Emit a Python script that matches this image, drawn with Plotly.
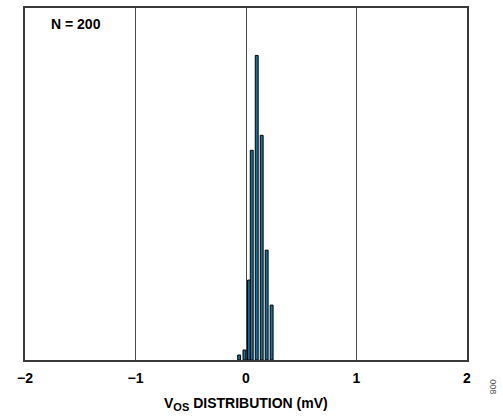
import plotly.graph_objects as go

# Histogram bins (mV) and unit counts, N = 200
bin_centers = [-0.062, -0.014, 0.027, 0.052, 0.097, 0.142, 0.187, 0.232]
counts = [1, 2, 16, 42, 61, 45, 22, 11]

x_ticks = [-2, -1, 0, 1, 2]
x_tick_labels = ["\u22122", "\u22121", "0", "1", "2"]
sample_label = "N = 200"

fig = go.Figure()
fig.add_trace(go.Bar(
    x=bin_centers,
    y=counts,
    width=0.026,
    marker=dict(color="#17719a", line=dict(color="#000000", width=1)),
))

fig.update_layout(
    width=503,
    height=416,
    margin=dict(l=25, r=36, t=6, b=56),
    paper_bgcolor="white",
    plot_bgcolor="white",
    showlegend=False,
    font=dict(family="Liberation Sans, Arial, sans-serif", color="#000000"),
    annotations=[
        dict(text="<b>" + sample_label + "</b>", x=0.055, y=0.955,
             xref="paper", yref="paper", xanchor="left", yanchor="middle",
             showarrow=False, font=dict(size=14)),
        dict(text="<b>V<sub><span style='font-size:11px'>OS</span></sub> DISTRIBUTION (mV)</b>",
             x=0.5, y=-0.125,
             xref="paper", yref="paper", xanchor="center", yanchor="middle",
             showarrow=False, font=dict(size=14)),
        dict(text="008", x=1.057, y=-0.075, xref="paper", yref="paper",
             xanchor="center", yanchor="middle", textangle=90,
             showarrow=False, font=dict(size=9, color="#555555")),
    ],
)

fig.update_xaxes(
    range=[-2, 2],
    tickvals=x_ticks,
    ticktext=["<b>" + t + "</b>" for t in x_tick_labels],
    tickfont=dict(size=14),
    ticks="",
    ticklen=0,
    ticklabelstandoff=4,
    showgrid=True,
    gridcolor="#4a4a4a",
    gridwidth=1,
    zeroline=False,
    showline=True,
    linecolor="#3a3a3a",
    linewidth=1.5,
    mirror=True,
)
fig.update_yaxes(
    range=[0, 70.5],
    showticklabels=False,
    ticks="",
    showgrid=False,
    zeroline=False,
    showline=True,
    linecolor="#3a3a3a",
    linewidth=1.5,
    mirror=True,
)

fig.write_html("out.html")
